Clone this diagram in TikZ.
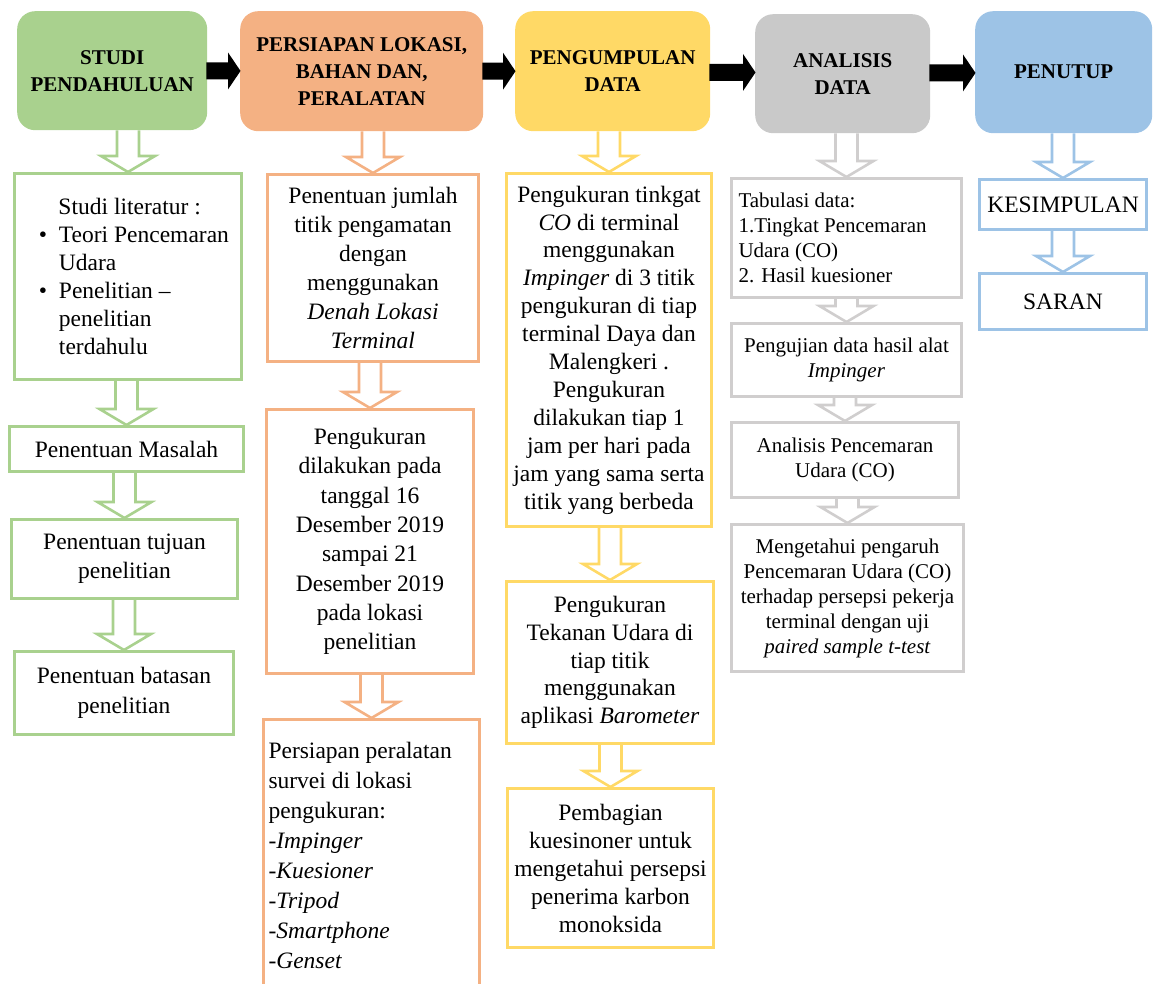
\documentclass[tikz,border=0pt]{standalone}
\usepackage{fontspec}
\setmainfont{Liberation Serif}
\usetikzlibrary{calc,backgrounds}
\definecolor{cgreen}{HTML}{A9D18E}
\definecolor{corange}{HTML}{F4B183}
\definecolor{cyellow}{HTML}{FFD966}
\definecolor{cgrayh}{HTML}{C9C9C9}
\definecolor{cgray}{HTML}{D0CECE}
\definecolor{cblue}{HTML}{9DC3E6}
\newcommand\hollowdown[3]{%
  \draw[#1, line width=2.6pt, fill=white, line join=miter]
    let \p1=(#2.south), \p2=(#3.north) in
    (\x2-11pt,\y1) -- (\x2-11pt,\y2+16pt) -- (\x2-27pt,\y2+16pt) -- (\x2,\y2)
    -- (\x2+27pt,\y2+16pt) -- (\x2+11pt,\y2+16pt) -- (\x2+11pt,\y1);}
\newcommand\blockright[2]{%
  \fill[black]
    let \p1=(#1.east), \p2=(#2.west), \p3=($(\p1)!0.5!(\p2)$) in
    (\x1-1pt,\y3+8.5pt) -- (\x2-12pt,\y3+8.5pt) -- (\x2-12pt,\y3+18.5pt) -- (\x2+0.5pt,\y3)
    -- (\x2-12pt,\y3-18.5pt) -- (\x2-12pt,\y3-8.5pt) -- (\x1-1pt,\y3-8.5pt) -- cycle;}
\begin{document}
\begin{tikzpicture}[x=1pt,y=-1pt,
  hdr/.style={anchor=north west, rounded corners=18pt, fill=#1, draw=none,
    align=center, inner sep=0pt, font=\fontsize{21}{27}\selectfont\bfseries},
  bx/.style={anchor=north west, draw=#1, line width=3pt, fill=white,
    align=center, inner sep=0pt},
  body/.style={font=\fontsize{23.5}{#1}\selectfont},
  small/.style={font=\fontsize{21}{25}\selectfont}]
\useasboundingbox (0,0) rectangle (1154,983);

% headers
\node[hdr=cgreen, minimum width=190pt, minimum height=119pt] (hg) at (17,11) {STUDI\\PENDAHULUAN};
\node[hdr=corange, minimum width=243pt, minimum height=120pt] (ho) at (240,11) {PERSIAPAN LOKASI,\\BAHAN DAN,\\PERALATAN};
\node[hdr=cyellow, minimum width=195pt, minimum height=120pt] (hy) at (515,11) {PENGUMPULAN\\DATA};
\node[hdr=cgrayh, minimum width=175pt, minimum height=119pt] (ha) at (755,14) {ANALISIS\\DATA};
\node[hdr=cblue, minimum width=177pt, minimum height=122pt] (hb) at (975,11) {PENUTUP};

% green column
\node[bx=cgreen, body=28, minimum width=227pt, minimum height=206pt, text width=210pt, align=flush left] (g1) at (13,172)
 {\hspace*{35.5pt}Studi literatur :\\
  \hspace*{16pt}\makebox[20pt][l]{\textbullet}Teori Pencemaran\\
  \hspace*{36pt}Udara\\
  \hspace*{16pt}\makebox[20pt][l]{\textbullet}Penelitian --\\
  \hspace*{36pt}penelitian\\
  \hspace*{36pt}terdahulu};
\node[bx=cgreen, body=29, minimum width=234pt, minimum height=45pt] (g2) at (8,425) {Penentuan Masalah};
\node[bx=cgreen, body=29, minimum width=226pt, minimum height=79pt] (g3) at (10,518) {Penentuan tujuan\\penelitian};
\node[bx=cgreen, body=30, minimum width=219pt, minimum height=83pt] (g4) at (13,650) {Penentuan batasan\\penelitian};

% orange column
\node[bx=corange, body=29, minimum width=211pt, minimum height=187pt] (o1) at (266,173)
 {Penentuan jumlah\\titik pengamatan\\dengan\\menggunakan\\\textit{Denah Lokasi}\\\textit{Terminal}};
\node[bx=corange, body=29.3, minimum width=207pt, minimum height=264pt] (o2) at (265,408)
 {Pengukuran\\dilakukan pada\\tanggal 16\\Desember 2019\\sampai 21\\Desember 2019\\pada lokasi\\penelitian};
\node[bx=corange, body=30, minimum width=216pt, minimum height=272pt, text width=206pt, align=flush left] (o3) at (262,718)
 {Persiapan peralatan\\survei di lokasi\\pengukuran:\\-\textit{Impinger}\\-\textit{Kuesioner}\\-\textit{Tripod}\\-\textit{Smartphone}\\-\textit{Genset}};

% yellow column
\node[bx=cyellow, body=27.9, minimum width=205pt, minimum height=353pt] (y1) at (505,172)
 {Pengukuran tinkgat\\\textit{CO} di terminal\\menggunakan\\\textit{Impinger} di 3 titik\\pengukuran di tiap\\terminal Daya dan\\Malengkeri .\\Pengukuran\\dilakukan tiap 1\\jam per hari pada\\jam yang sama serta\\titik yang berbeda};
\node[bx=cyellow, body=27.8, minimum width=207pt, minimum height=162pt] (y2) at (505,580)
 {Pengukuran\\Tekanan Udara di\\tiap titik\\menggunakan\\aplikasi \textit{Barometer}};
\node[bx=cyellow, body=28, minimum width=206pt, minimum height=159pt] (y3) at (506,787)
 {Pembagian\\kuesinoner untuk\\mengetahui persepsi\\penerima karbon\\monoksida};

% gray column
\node[bx=cgray, small, minimum width=230pt, minimum height=119pt, text width=216pt, align=flush left] (a1) at (730,177)
 {Tabulasi data:\\1.Tingkat Pencemaran\\Udara (CO)\\2. Hasil kuesioner};
\node[bx=cgray, small, minimum width=230pt, minimum height=73pt] (a2) at (730,322)
 {Pengujian data hasil alat\\\textit{Impinger}};
\node[bx=cgray, small, minimum width=227pt, minimum height=75pt] (a3) at (730,421)
 {Analisis Pencemaran\\Udara (CO)};
\node[bx=cgray, small, minimum width=232pt, minimum height=147pt] (a4) at (730,523)
 {Mengetahui pengaruh\\Pencemaran Udara (CO)\\terhadap persepsi pekerja\\terminal dengan uji\\\textit{paired sample t-test}};

% blue column
\node[bx=cblue, body=29, minimum width=167pt, minimum height=50pt] (b1) at (978,178) {KESIMPULAN};
\node[bx=cblue, body=29, minimum width=167pt, minimum height=56pt] (b2) at (978,272) {SARAN};

% block arrows between headers
\blockright{hg}{ho}
\blockright{ho}{hy}
\blockright{hy}{ha}
\blockright{ha}{hb}

\begin{scope}[on background layer]
\hollowdown{cgreen}{hg}{g1}
\hollowdown{cgreen}{g1}{g2}
\hollowdown{cgreen}{g2}{g3}
\hollowdown{cgreen}{g3}{g4}
\hollowdown{corange}{ho}{o1}
\hollowdown{corange}{o1}{o2}
\hollowdown{corange}{o2}{o3}
\hollowdown{cyellow}{hy}{y1}
\hollowdown{cyellow}{y1}{y2}
\hollowdown{cyellow}{y2}{y3}
\hollowdown{cgray}{ha}{a1}
\hollowdown{cgray}{a1}{a2}
\hollowdown{cgray}{a2}{a3}
\hollowdown{cgray}{a3}{a4}
\hollowdown{cblue}{hb}{b1}
\hollowdown{cblue}{b1}{b2}
\end{scope}
\end{tikzpicture}
\end{document}
